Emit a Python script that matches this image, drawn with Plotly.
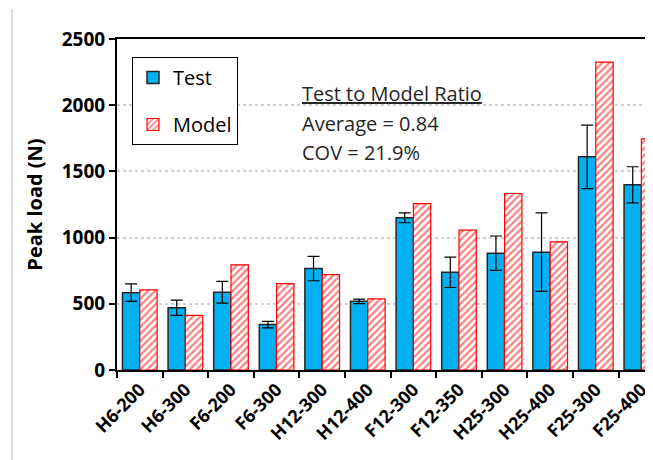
import plotly.graph_objects as go

categories = ["H6-200", "H6-300", "F6-200", "F6-300", "H12-300", "H12-400",
              "F12-300", "F12-350", "H25-300", "H25-400", "F25-300", "F25-400"]
test_values = [584, 470, 587, 343, 766, 519, 1149, 738, 882, 890, 1610, 1399]
test_errors = [66, 58, 82, 25, 92, 17, 37, 115, 130, 296, 240, 136]
model_values = [605, 413, 794, 653, 721, 537, 1257, 1056, 1333, 968, 2326, 1746]
y_ticks = [0, 500, 1000, 1500, 2000, 2500]

# page body has an 8px offset
OFF = 8
W, H = 653, 460
L, T = 117 - OFF, 39 - OFF
B = H - (370 - OFF)
plot_w = W - L
plot_h = H - T - B
cat_px = 45.6


def px_x(x):
    return (x - OFF - L) / plot_w


def px_y(y):
    return (370 - y) / plot_h


fig = go.Figure()
fig.add_trace(go.Bar(
    x=categories, y=test_values, name="Test", legendgroup="a",
    marker=dict(color="#00B0F0", line=dict(color="#262626", width=1.5)),
    error_y=dict(type="data", array=test_errors, visible=True,
                 color="#000000", thickness=1.2, width=6),
))
fig.add_trace(go.Bar(
    x=categories, y=model_values, name="Model", legendgroup="b",
    marker=dict(color="#FFFFFF", line=dict(color="#FF0000", width=1.2),
                pattern=dict(shape="/", fgcolor="#FF0000", bgcolor="#FFFFFF",
                             size=5, solidity=0.45)),
))

font_main = "Open Sans"
fig.update_layout(
    width=W, height=H,
    margin=dict(l=L, r=0, t=T, b=B),
    paper_bgcolor="white", plot_bgcolor="white",
    barmode="group", bargap=0.24, bargroupgap=0,
    font=dict(family=font_main, color="#000000"),
    showlegend=True,
    legend=dict(
        x=px_x(132), y=px_y(57),
        xanchor="left", yanchor="top",
        bordercolor="#000000", borderwidth=1, bgcolor="white",
        font=dict(family=font_main, size=20, color="#000000"),
        traceorder="grouped", tracegroupgap=18,
        itemwidth=30,
    ),
    xaxis=dict(
        range=[-0.5, -0.5 + plot_w / cat_px],
        showline=True, linecolor="#000000", linewidth=2, mirror=True,
        ticks="outside", ticklen=6, tickwidth=2, tickcolor="#000000",
        tickson="boundaries",
        tickangle=-45,
        tickfont=dict(family=font_main, size=18, color="#000000", weight="bold"),
        showgrid=False, zeroline=False,
    ),
    yaxis=dict(
        range=[0, 2500], tickvals=y_ticks,
        showline=True, linecolor="#000000", linewidth=2,
        ticks="outside", ticklen=6, tickwidth=2, tickcolor="#000000",
        tickfont=dict(family=font_main, size=19, color="#000000", weight="bold"),
        showgrid=True, gridcolor="#D0D0D0", gridwidth=1.5, griddash="dot",
        zeroline=False,
        title=dict(text="Peak load (N)", standoff=14,
                   font=dict(family=font_main, size=20, color="#000000", weight="bold")),
    ),
    shapes=[dict(type="line", xref="paper", yref="paper",
                 x0=px_x(12), x1=px_x(12),
                 y0=px_y(470), y1=px_y(9),
                 line=dict(color="#BFBFBF", width=1))],
)

ann_font = dict(family=font_main, size=20, color="#262626")
for txt, ypx in [("<u>Test to Model Ratio</u>", 93), ("Average = 0.84", 123), ("COV = 21.9%", 152)]:
    fig.add_annotation(text=txt, xref="paper", yref="paper",
                       x=px_x(300), y=px_y(ypx),
                       xanchor="left", yanchor="middle", showarrow=False, font=ann_font)

fig.write_html("out.html")
